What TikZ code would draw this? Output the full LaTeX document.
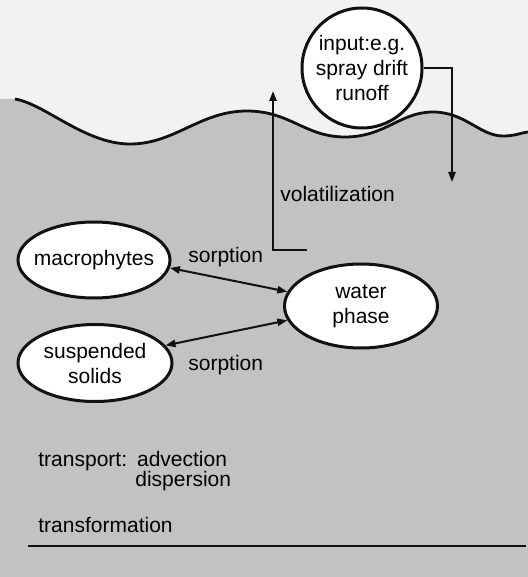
\documentclass[tikz,border=0pt]{standalone}
\usepackage{xcolor}
\usepackage{fontspec}
\setmainfont{Liberation Sans}
\usetikzlibrary{shapes.geometric,arrows.meta}
\definecolor{WFSky}{HTML}{F2F2F2}
\definecolor{WFWater}{HTML}{C2C2C2}
\definecolor{WFLine}{HTML}{111111}
\tikzset{
  compart/.style={ellipse,draw=WFLine,line width=1.5pt,fill=white,inner sep=0pt},
  srcbox/.style={circle,draw=WFLine,line width=1.5pt,fill=white,inner sep=0pt,minimum size=60pt,align=center},
  flow/.style={draw=WFLine,line width=1pt,-{Triangle[length=5pt,width=3.6pt]}},
  sorb/.style={draw=WFLine,line width=1pt,{Triangle[length=5pt,width=3.6pt]}-{Triangle[length=5pt,width=3.6pt]}},
  lbl/.style={anchor=west,inner sep=0pt}
}
\begin{document}
\begin{tikzpicture}[x=0.5pt,y=-0.5pt,font=\fontsize{10.5}{12.5}\selectfont]
\path[use as bounding box] (0,0) rectangle (528,577);
\fill[WFSky] (0,0) rectangle (528,577);
% water body
\fill[WFWater] (0,99) -- (15,99) .. controls (45,104) and (85,144) .. (130,144)
  .. controls (175,144) and (200,111) .. (247,111)
  .. controls (290,111) and (305,137) .. (345,137)
  .. controls (385,137) and (400,112) .. (433,112)
  .. controls (465,112) and (480,136) .. (503,136)
  .. controls (515,136) and (520,133) .. (528,132) -- (528,577) -- (0,577) -- cycle;
\draw[WFLine,line width=1.4pt] (15,99) .. controls (45,104) and (85,144) .. (130,144)
  .. controls (175,144) and (200,111) .. (247,111)
  .. controls (290,111) and (305,137) .. (345,137)
  .. controls (385,137) and (400,112) .. (433,112)
  .. controls (465,112) and (480,136) .. (503,136)
  .. controls (515,136) and (520,133) .. (528,132);
% compartments
\node[srcbox] (input) at (362,68) {input:e.g.\\spray drift\\runoff};
\node[compart,minimum width=76pt,minimum height=38pt,label=center:macrophytes] (macro) at (94,260) {};
\node[compart,minimum width=77pt,minimum height=38.5pt,label={[align=center]center:suspended\\solids}] (solids) at (95,363) {};
\node[compart,minimum width=76.5pt,minimum height=42pt,label={[align=center]center:water\\phase}] (water) at (361,306) {};
% flows
\coordinate (inend) at (452,182);
\draw[flow] (input.east) -| (inend);
\coordinate (volstart) at (307,250);
\coordinate (volend) at (273,91);
\draw[flow] (volstart) -| (volend);
\draw[sorb] (macro.-6) -- (water.169);
\draw[sorb] (solids.14) -- (water.191);
% labels
\node[lbl] (vol) at (280,194) {volatilization};
\node[lbl] (sorp1) at (188,257) {sorption};
\node[lbl] (sorp2) at (188,365) {sorption};
\node[lbl,anchor=north west,align=left,font=\fontsize{10.5}{10}\selectfont] (transp) at (38,451) {transport:\hspace{5pt}advection\\\hspace{48.5pt}dispersion};
\node[lbl] (transf) at (38,525) {transformation};
% bottom
\coordinate (botL) at (28,546);
\coordinate (botR) at (526,546);
\draw[WFLine,line width=1.2pt] (botL) -- (botR);
\end{tikzpicture}
\end{document}
